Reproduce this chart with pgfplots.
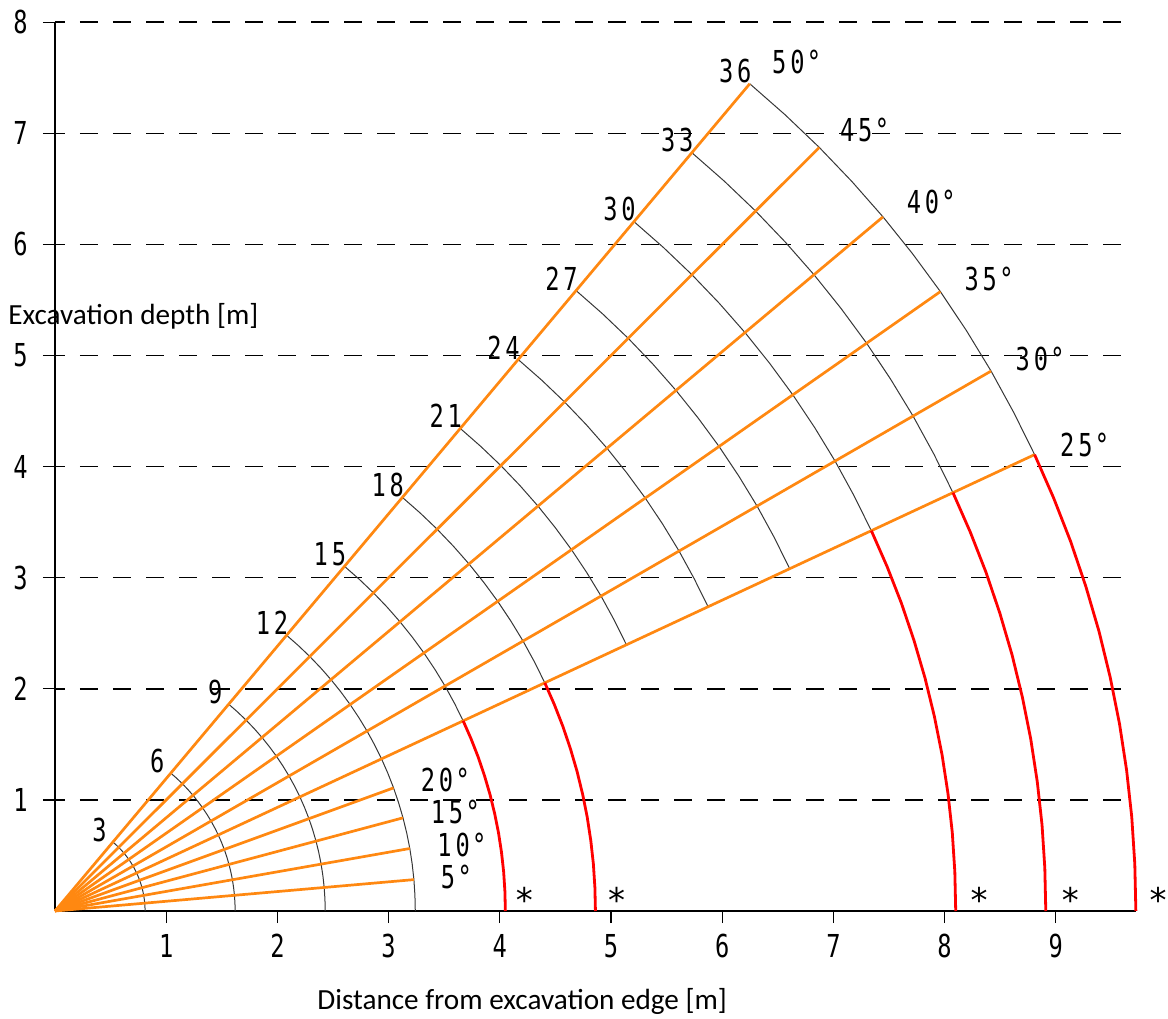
\documentclass[border=0pt]{standalone}
\usepackage{pgfplots}
\pgfplotsset{compat=1.18}
\usepackage{fontspec}
\setmainfont{Carlito}
\newfontfamily\techfont[FakeStretch=0.75,LetterSpace=12]{DejaVu Sans Mono}
\newfontfamily\starfont{DejaVu Sans Mono}
\newcommand\tf{\techfont\fontsize{15.8}{16}\selectfont}
\newcommand\dg{\hspace{1.2pt}°}
\definecolor{rayorange}{RGB}{255,136,17}
\definecolor{arcred}{RGB}{255,0,0}
\definecolor{arcgray}{RGB}{55,55,55}
\begin{document}
\begin{tikzpicture}
\begin{axis}[
  x=55.6pt, y=55.55pt,
  xmin=0, xmax=9.72, ymin=0, ymax=8,
  axis x line=bottom, axis y line=left,
  axis line style={-, black, line width=0.7pt},
  xtick={1,...,9}, ytick={1,...,8},
  tick align=outside, major tick length=6pt,
  tick style={black, line width=0.6pt},
  ymajorgrids,
  grid style={black, line width=0.7pt, dash pattern=on 9pt off 7.5pt, dash phase=4pt},
  /pgf/number format/assume math mode=true,
  ticklabel style={font=\tf, inner sep=0pt},
  xticklabel style={anchor=north, yshift=-5.5pt},
  yticklabel style={anchor=east, xshift=-7.5pt},
  clip=false,
]
% black arcs, full 0-50 deg
\addplot[arcgray, line width=0.5pt, data cs=polar] coordinates {(0,0.81)(2.5,0.81)(5,0.81)(7.5,0.81)(10,0.81)(12.5,0.81)(15,0.81)(17.5,0.81)(20,0.81)(22.5,0.81)(25,0.81)(27.5,0.81)(30,0.81)(32.5,0.81)(35,0.81)(37.5,0.81)(40,0.81)(42.5,0.81)(45,0.81)(47.5,0.81)(50,0.81)};
\addplot[arcgray, line width=0.5pt, data cs=polar] coordinates {(0,1.62)(2.5,1.62)(5,1.62)(7.5,1.62)(10,1.62)(12.5,1.62)(15,1.62)(17.5,1.62)(20,1.62)(22.5,1.62)(25,1.62)(27.5,1.62)(30,1.62)(32.5,1.62)(35,1.62)(37.5,1.62)(40,1.62)(42.5,1.62)(45,1.62)(47.5,1.62)(50,1.62)};
\addplot[arcgray, line width=0.5pt, data cs=polar] coordinates {(0,2.43)(2.5,2.43)(5,2.43)(7.5,2.43)(10,2.43)(12.5,2.43)(15,2.43)(17.5,2.43)(20,2.43)(22.5,2.43)(25,2.43)(27.5,2.43)(30,2.43)(32.5,2.43)(35,2.43)(37.5,2.43)(40,2.43)(42.5,2.43)(45,2.43)(47.5,2.43)(50,2.43)};
\addplot[arcgray, line width=0.5pt, data cs=polar] coordinates {(0,3.24)(2.5,3.24)(5,3.24)(7.5,3.24)(10,3.24)(12.5,3.24)(15,3.24)(17.5,3.24)(20,3.24)(22.5,3.24)(25,3.24)(27.5,3.24)(30,3.24)(32.5,3.24)(35,3.24)(37.5,3.24)(40,3.24)(42.5,3.24)(45,3.24)(47.5,3.24)(50,3.24)};
% black arcs, 25-50 deg
\addplot[arcgray, line width=0.5pt, data cs=polar] coordinates {(25,4.05)(27.5,4.05)(30,4.05)(32.5,4.05)(35,4.05)(37.5,4.05)(40,4.05)(42.5,4.05)(45,4.05)(47.5,4.05)(50,4.05)};
\addplot[arcgray, line width=0.5pt, data cs=polar] coordinates {(25,4.86)(27.5,4.86)(30,4.86)(32.5,4.86)(35,4.86)(37.5,4.86)(40,4.86)(42.5,4.86)(45,4.86)(47.5,4.86)(50,4.86)};
\addplot[arcgray, line width=0.5pt, data cs=polar] coordinates {(25,5.67)(27.5,5.67)(30,5.67)(32.5,5.67)(35,5.67)(37.5,5.67)(40,5.67)(42.5,5.67)(45,5.67)(47.5,5.67)(50,5.67)};
\addplot[arcgray, line width=0.5pt, data cs=polar] coordinates {(25,6.48)(27.5,6.48)(30,6.48)(32.5,6.48)(35,6.48)(37.5,6.48)(40,6.48)(42.5,6.48)(45,6.48)(47.5,6.48)(50,6.48)};
\addplot[arcgray, line width=0.5pt, data cs=polar] coordinates {(25,7.29)(27.5,7.29)(30,7.29)(32.5,7.29)(35,7.29)(37.5,7.29)(40,7.29)(42.5,7.29)(45,7.29)(47.5,7.29)(50,7.29)};
\addplot[arcgray, line width=0.5pt, data cs=polar] coordinates {(25,8.10)(27.5,8.10)(30,8.10)(32.5,8.10)(35,8.10)(37.5,8.10)(40,8.10)(42.5,8.10)(45,8.10)(47.5,8.10)(50,8.10)};
\addplot[arcgray, line width=0.5pt, data cs=polar] coordinates {(25,8.91)(27.5,8.91)(30,8.91)(32.5,8.91)(35,8.91)(37.5,8.91)(40,8.91)(42.5,8.91)(45,8.91)(47.5,8.91)(50,8.91)};
\addplot[arcgray, line width=0.5pt, data cs=polar] coordinates {(25,9.72)(27.5,9.72)(30,9.72)(32.5,9.72)(35,9.72)(37.5,9.72)(40,9.72)(42.5,9.72)(45,9.72)(47.5,9.72)(50,9.72)};
% orange rays
\addplot[rayorange, line width=1.35pt, data cs=polar] coordinates {(5,0)(5,3.24)};
\addplot[rayorange, line width=1.35pt, data cs=polar] coordinates {(10,0)(10,3.24)};
\addplot[rayorange, line width=1.35pt, data cs=polar] coordinates {(15,0)(15,3.24)};
\addplot[rayorange, line width=1.35pt, data cs=polar] coordinates {(20,0)(20,3.24)};
\addplot[rayorange, line width=1.35pt, data cs=polar] coordinates {(25,0)(25,9.72)};
\addplot[rayorange, line width=1.35pt, data cs=polar] coordinates {(30,0)(30,9.72)};
\addplot[rayorange, line width=1.35pt, data cs=polar] coordinates {(35,0)(35,9.72)};
\addplot[rayorange, line width=1.35pt, data cs=polar] coordinates {(40,0)(40,9.72)};
\addplot[rayorange, line width=1.35pt, data cs=polar] coordinates {(45,0)(45,9.72)};
\addplot[rayorange, line width=1.35pt, data cs=polar] coordinates {(50,0)(50,9.72)};
% red arcs 0-25 deg
\addplot[arcred, line width=1.4pt, data cs=polar] coordinates {(0,4.05)(2.5,4.05)(5,4.05)(7.5,4.05)(10,4.05)(12.5,4.05)(15,4.05)(17.5,4.05)(20,4.05)(22.5,4.05)(25,4.05)};
\addplot[arcred, line width=1.4pt, data cs=polar] coordinates {(0,4.86)(2.5,4.86)(5,4.86)(7.5,4.86)(10,4.86)(12.5,4.86)(15,4.86)(17.5,4.86)(20,4.86)(22.5,4.86)(25,4.86)};
\addplot[arcred, line width=1.4pt, data cs=polar] coordinates {(0,8.10)(2.5,8.10)(5,8.10)(7.5,8.10)(10,8.10)(12.5,8.10)(15,8.10)(17.5,8.10)(20,8.10)(22.5,8.10)(25,8.10)};
\addplot[arcred, line width=1.4pt, data cs=polar] coordinates {(0,8.91)(2.5,8.91)(5,8.91)(7.5,8.91)(10,8.91)(12.5,8.91)(15,8.91)(17.5,8.91)(20,8.91)(22.5,8.91)(25,8.91)};
\addplot[arcred, line width=1.4pt, data cs=polar] coordinates {(0,9.72)(2.5,9.72)(5,9.72)(7.5,9.72)(10,9.72)(12.5,9.72)(15,9.72)(17.5,9.72)(20,9.72)(22.5,9.72)(25,9.72)};
% arc labels
\node[anchor=south east, inner sep=0pt, font=\tf, xshift=-3pt] at (axis cs:0.521,0.621) {3};
\node[anchor=south east, inner sep=0pt, font=\tf, xshift=-3pt] at (axis cs:1.041,1.241) {6};
\node[anchor=south east, inner sep=0pt, font=\tf, xshift=-3pt] at (axis cs:1.562,1.862) {9};
\node[anchor=south east, inner sep=0pt, font=\tf, xshift=1pt] at (axis cs:2.083,2.482) {12};
\node[anchor=south east, inner sep=0pt, font=\tf, xshift=1pt] at (axis cs:2.603,3.103) {15};
\node[anchor=south east, inner sep=0pt, font=\tf, xshift=1pt] at (axis cs:3.124,3.723) {18};
\node[anchor=south east, inner sep=0pt, font=\tf, xshift=1pt] at (axis cs:3.645,4.344) {21};
\node[anchor=south east, inner sep=0pt, font=\tf, xshift=1pt] at (axis cs:4.165,4.964) {24};
\node[anchor=south east, inner sep=0pt, font=\tf, xshift=1pt] at (axis cs:4.686,5.585) {27};
\node[anchor=south east, inner sep=0pt, font=\tf, xshift=1pt] at (axis cs:5.207,6.205) {30};
\node[anchor=south east, inner sep=0pt, font=\tf, xshift=1pt] at (axis cs:5.727,6.826) {33};
\node[anchor=south east, inner sep=0pt, font=\tf, xshift=1pt] at (axis cs:6.248,7.446) {36};
% angle labels
\node[inner sep=0pt, font=\tf] at (axis cs:6.67,7.64) {50\dg};
\node[inner sep=0pt, font=\tf] at (axis cs:7.28,7.03) {45\dg};
\node[inner sep=0pt, font=\tf] at (axis cs:7.88,6.38) {40\dg};
\node[inner sep=0pt, font=\tf] at (axis cs:8.40,5.69) {35\dg};
\node[inner sep=0pt, font=\tf] at (axis cs:8.86,4.97) {30\dg};
\node[inner sep=0pt, font=\tf] at (axis cs:9.26,4.19) {25\dg};
\node[inner sep=0pt, font=\tf] at (axis cs:3.51,1.18) {20\dg};
\node[inner sep=0pt, font=\tf] at (axis cs:3.60,0.89) {15\dg};
\node[inner sep=0pt, font=\tf] at (axis cs:3.66,0.59) {10\dg};
\node[inner sep=0pt, font=\tf] at (axis cs:3.61,0.31) {5\dg};
% stars
\node[anchor=base, inner sep=0pt, font=\starfont\fontsize{17}{17}\selectfont] at (axis cs:4.22,-0.01) {*};
\node[anchor=base, inner sep=0pt, font=\starfont\fontsize{17}{17}\selectfont] at (axis cs:5.05,-0.01) {*};
\node[anchor=base, inner sep=0pt, font=\starfont\fontsize{17}{17}\selectfont] at (axis cs:8.31,-0.01) {*};
\node[anchor=base, inner sep=0pt, font=\starfont\fontsize{17}{17}\selectfont] at (axis cs:9.13,-0.01) {*};
\node[anchor=base, inner sep=0pt, font=\starfont\fontsize{17}{17}\selectfont] at (axis cs:9.92,-0.01) {*};
% axis titles
\node[anchor=base west, inner sep=0pt, font=\fontsize{14.6}{17}\selectfont] at (axis cs:-0.423,5.275) {Excavation depth [m]};
\node[anchor=base west, inner sep=0pt, font=\fontsize{14.6}{17}\selectfont] at (axis cs:2.356,-0.891) {Distance from excavation edge [m]};
\end{axis}
\pgfresetboundingbox
\path[use as bounding box] (-27.5pt,-53.5pt) rectangle (556.5pt,455.5pt);
\end{tikzpicture}
\end{document}
